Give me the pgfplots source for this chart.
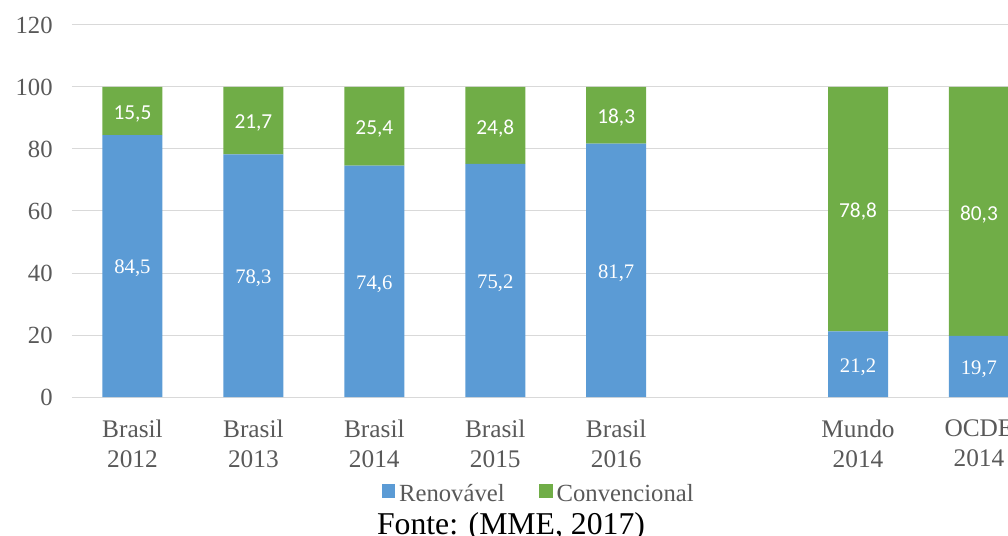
\documentclass[border=0pt]{standalone}
\usepackage{fontspec}
\setmainfont{Liberation Serif}
\newfontfamily\calibri{Carlito}
\usepackage{pgfplots}
\pgfplotsset{compat=1.18}
\usepackage{pgfplotstable}

\definecolor{renblue}{HTML}{5B9BD5}
\definecolor{convgreen}{HTML}{70AD47}
\definecolor{gridgray}{HTML}{D9D9D9}
\definecolor{textgray}{HTML}{595959}

% share of renewable / conventional sources (%)
\pgfplotstableread{
x  ren   conv
0  84.5  15.5
1  78.3  21.7
2  74.6  25.4
3  75.2  24.8
4  81.7  18.3
6  21.2  78.8
7  19.7  80.3
}\matriz

\begin{document}
\begin{tikzpicture}
\begin{axis}[
  scale only axis,
  width=702pt, height=279pt,
  ybar stacked,
  bar width=45pt,
  xmin=-0.5, xmax=7.24,
  ymin=0, ymax=120,
  ytick={0,20,...,120},
  xtick={0,1,2,3,4,6,7},
  xticklabels={Brasil\\2012, Brasil\\2013, Brasil\\2014, Brasil\\2015, Brasil\\2016, Mundo\\2014, OCDE\\2014},
  axis line style={draw=none},
  major tick length=0pt,
  ymajorgrids,
  grid style={gridgray, line width=0.75pt},
  /pgf/number format/assume math mode=true,
  yticklabel style={font=\fontsize{18.5}{22}\selectfont, text=textgray, xshift=-11pt},
  xticklabel style={font=\fontsize{19}{22.5}\selectfont, text=textgray, align=center, yshift=-13.5pt},
  point meta=explicit,
  % stacked labels already sit in the middle of their segment
  nodes near coords={\pgfmathprintnumber[use comma,fixed,fixed zerofill,precision=1,assume math mode=true]{\pgfplotspointmeta}},
  every node near coord/.append style={anchor=center, text=white, yshift=-2pt},
  legend columns=-1,
  legend style={at={(0.499,-0.26)}, anchor=center, draw=none, fill=none,
    font=\fontsize{18.5}{22}\selectfont, text=textgray,
    /tikz/every even column/.append style={column sep=24pt},
    /tikz/every odd column/.append style={column sep=1pt}},
  legend image code/.code={\fill[#1] (0pt,-3pt) rectangle (10pt,7pt);},
]
\addplot[fill=renblue, draw=none,
  every node near coord/.append style={font=\fontsize{15.5}{18}\selectfont}]
  table[x=x, y=ren, meta=ren] {\matriz};
\addlegendentry{Renovável}
\addplot[fill=convgreen, draw=none,
  every node near coord/.append style={font=\calibri\fontsize{16}{19}\selectfont}]
  table[x=x, y=conv, meta=conv] {\matriz};
\addlegendentry{Convencional}
\coordinate (O) at (rel axis cs:0,0);
\end{axis}
\node[anchor=base, font=\fontsize{23.8}{28}\selectfont] at ([shift={(329.25pt,-102.75pt)}]O) {Fonte: (MME, 2017)};
\pgfresetboundingbox
\path ([shift={(-54pt,-104.25pt)}]O) rectangle ([shift={(702pt,297.75pt)}]O);
\end{tikzpicture}
\end{document}
